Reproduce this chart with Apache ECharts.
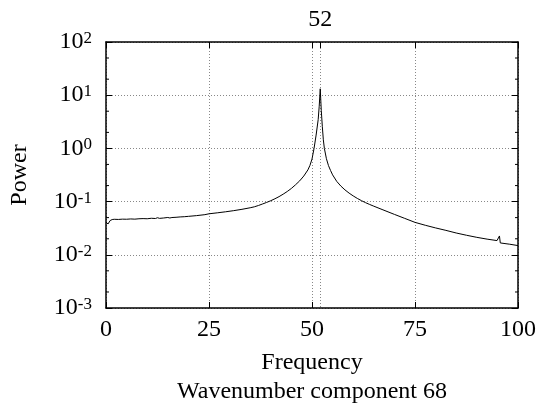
<!DOCTYPE html>
<html>
<head>
<meta charset="utf-8">
<script src="https://cdn.jsdelivr.net/npm/echarts@6/dist/echarts.min.js"></script>
<style>
  html, body { margin: 0; padding: 0; background: #fff; }
  #chart { width: 540px; height: 413px; }
</style>
</head>
<body>
<div id="chart"></div>
<script>
// Power spectrum of one wavenumber component
const freq = [0, 0.5, 1, 1.5, 2, 3, 4, 5, 6, 7, 8, 9, 10, 11, 12, 12.5, 13, 14, 15, 15.5,
  16, 17, 18, 19, 20, 22, 24, 25, 27, 29, 31, 33, 35, 36, 37, 38, 39, 40, 41, 42,
  43, 44, 45, 46, 47, 48, 49, 49.5, 50, 50.5, 51, 51.5, 51.75, 52, 52.25, 52.5, 52.75, 53, 53.5, 54,
  54.5, 55, 56, 57, 58, 59, 60, 61, 62, 63, 64, 65, 67, 70, 72.5, 75, 77.5, 80, 82.5, 85,
  87.5, 90, 92.5, 94.9, 95.3, 95.5, 95.7, 96, 98, 100];
const power = [0.041, 0.038, 0.044, 0.046, 0.0465, 0.0462, 0.0468, 0.0466, 0.0472, 0.0468, 0.0476, 0.0479, 0.0476, 0.0486, 0.0481, 0.0498, 0.0484, 0.0492, 0.0503, 0.0492,
  0.0502, 0.0507, 0.0515, 0.052, 0.0528, 0.0545, 0.0568, 0.059, 0.0615, 0.0643, 0.0676, 0.0716, 0.0766, 0.0798, 0.0845, 0.0902, 0.0966, 0.104, 0.113, 0.124,
  0.138, 0.155, 0.177, 0.207, 0.245, 0.302, 0.394, 0.479, 0.631, 1.0, 1.78, 3.47, 6.2, 13.2, 5.2, 2.6, 1.45, 1.0, 0.64, 0.475,
  0.385, 0.318, 0.24, 0.196, 0.166, 0.1445, 0.128, 0.1148, 0.1042, 0.0955, 0.0883, 0.082, 0.0711, 0.0575, 0.0484, 0.0407, 0.0359, 0.032, 0.0288, 0.0257,
  0.0233, 0.0213, 0.0197, 0.0185, 0.0184, 0.0226, 0.0167, 0.0166, 0.0158, 0.0149];

// Axis settings
const xTicks = [0, 25, 50, 75, 100];
const peakFreq = 52;
const yMin = 1e-3;
const yMax = 1e2;
// Minor tick positions on the logarithmic power axis
const minorTickValues = [2e-3, 5e-3, 2e-2, 5e-2, 2e-1, 5e-1, 2, 5, 20, 50];

const FONT = 'Liberation Serif';
const grid = { left: 106, right: 22, top: 42, bottom: 105, outerBoundsMode: 'none', containLabel: false };
const gridLine = { show: true, lineStyle: { color: '#888', type: [1, 2], width: 1 } };
const frameLine = { show: true, onZero: false, lineStyle: { color: '#000', width: 1.5 } };
const tickIn = { show: true, inside: true, length: 6, lineStyle: { color: '#000', width: 1 } };

const chart = echarts.init(document.getElementById('chart'), null, { renderer: 'canvas' });

chart.setOption({
  animation: false,
  backgroundColor: '#fff',
  grid: grid,
  xAxis: [
    {
      type: 'value', position: 'bottom', min: xTicks[0], max: xTicks[xTicks.length - 1], interval: 25,
      axisLine: frameLine, axisTick: tickIn, splitLine: gridLine,
      axisLabel: { color: '#000', fontFamily: FONT, fontSize: 24, margin: 10 },
      name: 'Frequency\nWavenumber component 68', nameLocation: 'middle', nameGap: 40,
      nameTextStyle: { color: '#000', fontFamily: FONT, fontSize: 24, lineHeight: 29 }
    },
    {
      type: 'value', position: 'top', min: 0, max: 100, interval: 25,
      axisLine: frameLine, axisTick: tickIn, splitLine: { show: false },
      axisLabel: { show: false }
    },
    {
      type: 'value', position: 'top', min: 0, max: 100, interval: peakFreq,
      axisLine: { show: false },
      axisTick: { show: true, inside: true, length: 6, lineStyle: { color: '#000', width: 1 },
        customValues: [peakFreq] },
      splitLine: gridLine,
      axisLabel: {
        color: '#000', fontFamily: FONT, fontSize: 24, margin: 10,
        formatter: v => (v === peakFreq ? String(peakFreq) : '')
      }
    }
  ],
  yAxis: [
    {
      type: 'log', logBase: 10, min: yMin, max: yMax, position: 'left',
      axisLine: frameLine, axisTick: tickIn, splitLine: gridLine,
      axisLabel: {
        margin: 14,
        formatter: v => {
          const e = Math.round(Math.log10(v));
          return '{b|10}{s|' + e + '}';
        },
        rich: {
          b: { fontFamily: FONT, fontSize: 24, color: '#000', lineHeight: 24 },
          s: { fontFamily: FONT, fontSize: 17, color: '#000', verticalAlign: 'top', lineHeight: 17 }
        }
      },
      name: 'Power', nameLocation: 'middle', nameGap: 74, nameRotate: 90,
      nameTextStyle: { color: '#000', fontFamily: FONT, fontSize: 24 }
    },
    {
      type: 'log', logBase: 10, min: yMin, max: yMax, position: 'right',
      axisLine: frameLine, axisTick: tickIn, splitLine: { show: false },
      axisLabel: { show: false }
    }
  ],
  series: [
    {
      type: 'line',
      xAxisIndex: 0, yAxisIndex: 0,
      data: freq.map((f, i) => [f, power[i]]),
      showSymbol: false,
      lineStyle: { color: '#000', width: 1 },
      z: 5
    },
    {
      // short inward minor ticks on both sides of the frame
      type: 'custom',
      xAxisIndex: 0, yAxisIndex: 0,
      data: minorTickValues.map(v => [0, v]),
      renderItem: (params, api) => {
        const y = api.coord([0, api.value(1)])[1];
        const xl = api.coord([0, 1])[0];
        const xr = api.coord([100, 1])[0];
        return {
          type: 'group',
          children: [
            { type: 'line', shape: { x1: xl, y1: y, x2: xl + 3, y2: y }, style: { stroke: '#000', lineWidth: 1 } },
            { type: 'line', shape: { x1: xr, y1: y, x2: xr - 3, y2: y }, style: { stroke: '#000', lineWidth: 1 } }
          ]
        };
      },
      silent: true,
      z: 4
    }
  ]
});
</script>
</body>
</html>
